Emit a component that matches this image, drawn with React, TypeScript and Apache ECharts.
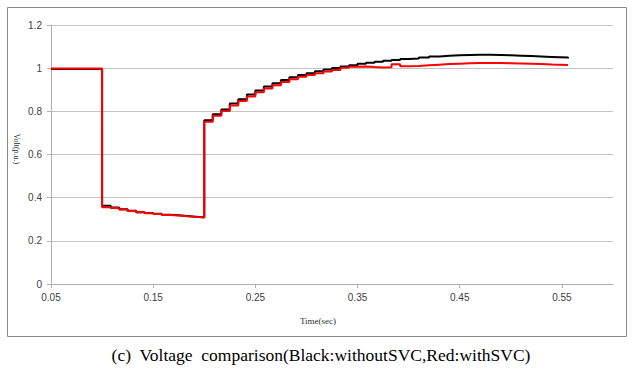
import React, { useEffect, useRef } from "react";
import * as echarts from "echarts";

const times = [
  0.05, 0.1, 0.1083, 0.1167, 0.125, 0.1333, 0.1417, 0.15, 0.1583, 0.1667, 0.175, 0.1833, 0.1917,
  0.2, 0.2083, 0.2167, 0.225, 0.2333, 0.2417, 0.25, 0.2583, 0.2667, 0.275, 0.2833, 0.2917, 0.3,
  0.3083, 0.3167, 0.325, 0.3333, 0.3417, 0.35, 0.3583, 0.3667, 0.375, 0.3833, 0.3917, 0.4,
  0.41, 0.42, 0.43, 0.44, 0.45, 0.46, 0.47, 0.48, 0.49, 0.5, 0.51, 0.52, 0.53, 0.54, 0.556,
];

const withoutSVC = [
  0.996,
  0.362, 0.354, 0.346, 0.339, 0.333, 0.329, 0.325, 0.321, 0.318, 0.315, 0.312, 0.309,
  0.759, 0.787, 0.809, 0.836, 0.856, 0.878, 0.897, 0.915, 0.93, 0.945, 0.958, 0.968, 0.976,
  0.986, 0.994, 1.001, 1.008, 1.014, 1.02, 1.025, 1.03, 1.034, 1.038, 1.042, 1.045,
  1.05, 1.054, 1.057, 1.06, 1.061, 1.062, 1.062, 1.061, 1.06, 1.058, 1.056, 1.054, 1.052, 1.049,
  1.045,
];

const withSVC = [
  0.998,
  0.356, 0.352, 0.345, 0.338, 0.332, 0.328, 0.324, 0.32, 0.317, 0.314, 0.311, 0.308,
  0.752, 0.779, 0.801, 0.827, 0.848, 0.869, 0.888, 0.906, 0.921, 0.936, 0.949, 0.96, 0.968,
  0.977, 0.985, 0.992, 1.002, 1.007, 1.008, 1.005, 1.003, 1.004, 1.018, 1.009, 1.01,
  1.013, 1.016, 1.019, 1.021, 1.023, 1.024, 1.024, 1.024, 1.023, 1.022, 1.021, 1.019, 1.017, 1.015,
  1.012,
];

const xTickValues = [0.05, 0.15, 0.25, 0.35, 0.45, 0.55];

const caption = "(c)  Voltage  comparison(Black:withoutSVC,Red:withSVC)";

export default function App() {
  const ref = useRef<HTMLDivElement>(null);
  useEffect(() => {
    if (!ref.current) return;
    const chart = echarts.init(ref.current, null, { renderer: "svg" });
    const labelFont = "'Liberation Sans Narrow', 'Liberation Sans', Arial, sans-serif";
    chart.setOption({
      animation: false,
      backgroundColor: "#ffffff",
      grid: { left: 51, right: 27, top: 25, bottom: 95 },
      xAxis: {
        type: "value",
        min: 0.05,
        max: 0.6,
        splitLine: { show: false },
        axisLine: { show: true, lineStyle: { color: "#b0b0b0", width: 1 } },
        axisTick: {
          show: true,
          length: 4,
          customValues: xTickValues,
          lineStyle: { color: "#b0b0b0" },
        },
        axisLabel: {
          customValues: xTickValues,
          formatter: (v: number) => v.toFixed(2),
          color: "#404040",
          fontSize: 10,
          fontFamily: labelFont,
          margin: 8,
        },
      },
      yAxis: {
        type: "value",
        min: 0,
        max: 1.2,
        interval: 0.2,
        splitLine: { show: true, lineStyle: { color: "#c4c4c4", width: 1 } },
        axisLine: { show: true, lineStyle: { color: "#b0b0b0", width: 1 } },
        axisTick: { show: true, length: 4, lineStyle: { color: "#b0b0b0" } },
        axisLabel: {
          formatter: (v: number) => String(Math.round(v * 10) / 10),
          color: "#404040",
          fontSize: 10,
          fontFamily: labelFont,
          margin: 9,
        },
      },
      graphic: [
        {
          type: "rect",
          shape: { x: 7.5, y: 7.5, width: 619, height: 329 },
          style: { fill: "none", stroke: "#8a8a8a", lineWidth: 1 },
          silent: true,
        },
        {
          type: "text",
          x: 318,
          y: 321,
          style: {
            text: "Time(sec)",
            font: "9px 'Liberation Serif', 'Times New Roman', serif",
            fill: "#303030",
            align: "center",
            verticalAlign: "middle",
          },
        },
        {
          type: "text",
          x: 16,
          y: 149,
          rotation: -Math.PI / 2,
          style: {
            text: "Volt(p.u.)",
            font: "8px 'Liberation Serif', 'Times New Roman', serif",
            fill: "#303030",
            align: "center",
            verticalAlign: "middle",
          },
        },
        {
          type: "text",
          x: 321,
          y: 355,
          style: {
            text: caption,
            font: "17.5px 'Liberation Serif', 'Times New Roman', serif",
            fill: "#000000",
            align: "center",
            verticalAlign: "middle",
          },
        },
      ],
      series: [
        {
          name: "withoutSVC",
          type: "line",
          step: "end",
          showSymbol: false,
          data: times.map((t, i) => [t, withoutSVC[i]]),
          lineStyle: { color: "#000000", width: 2 },
          itemStyle: { color: "#000000" },
          z: 2,
        },
        {
          name: "withSVC",
          type: "line",
          step: "end",
          showSymbol: false,
          data: times.map((t, i) => [t, withSVC[i]]),
          lineStyle: { color: "#ff0000", width: 2 },
          itemStyle: { color: "#ff0000" },
          z: 3,
        },
      ],
    });
    return () => chart.dispose();
  }, []);
  return (
    <div
      ref={ref}
      style={{ position: "fixed", left: 0, top: 0, width: 640, height: 379, background: "#fff" }}
    />
  );
}
